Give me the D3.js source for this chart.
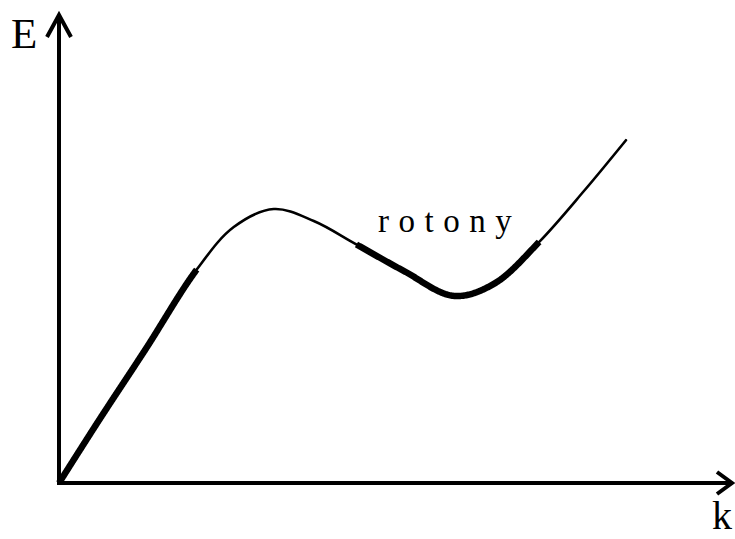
<!DOCTYPE html>
<html><head><meta charset="utf-8">
<script src="https://cdn.jsdelivr.net/npm/d3@7"></script>
<style>html,body{margin:0;padding:0;background:#fff}</style>
</head><body>
<script>
// dispersion curve E(k) (arbitrary units)
const kValues = [0, 0.6, 1.3, 2.07, 2.62, 3.22, 3.82, 4.45, 5.17, 5.92, 6.52, 7.2, 7.87, 8.5];
const eValues = [0, 1.36, 2.9, 4.63, 5.54, 5.93, 5.67, 5.17, 4.59, 4.05, 4.31, 5.22, 6.32, 7.42];
// highlighted (thick) ranges in k
const phononRange = [0, 2.07];
const rotonRange = [4.45, 7.2];
const axisLabels = {x: "k", y: "E"};
const rotonLabel = "rotony";

const W = 735, H = 539;
const svg = d3.select("body").append("svg").attr("width", W).attr("height", H);
const x = d3.scaleLinear().domain([0, 10]).range([59, 726]);
const y = d3.scaleLinear().domain([0, 10]).range([483, 21]);

const pts = kValues.map((k, i) => [k, eValues[i]]);
const line = d3.line().x(d => x(d[0])).y(d => y(d[1])).curve(d3.curveCatmullRom.alpha(0.5));

// full thin curve
const full = svg.append("path").attr("d", line(pts)).attr("fill", "none")
  .attr("stroke", "#000").attr("stroke-width", 2.6).attr("stroke-linecap", "round");

// sample the full curve to build thick sub-segments
const node = full.node();
const L = node.getTotalLength();
const samples = d3.range(0, L + 0.5, 1).map(l => node.getPointAtLength(Math.min(l, L)));
function seg(r) {
  const a = x(r[0]), b = x(r[1]);
  return samples.filter(p => p.x >= a && p.x <= b);
}
const pline = d3.line().x(p => p.x).y(p => p.y);
[phononRange, rotonRange].forEach(r => {
  svg.append("path").attr("d", pline(seg(r))).attr("fill", "none")
    .attr("stroke", "#000").attr("stroke-width", 6.5).attr("stroke-linecap", "butt");
});

// axes
const x0 = x(0), y0 = y(0);
const ax = svg.append("g").attr("stroke", "#000").attr("stroke-width", 4).attr("fill", "none");
ax.append("line").attr("x1", x0).attr("y1", y0 + 2).attr("x2", x0).attr("y2", 16);
ax.append("line").attr("x1", x0 - 2).attr("y1", y0).attr("x2", 731).attr("y2", y0);
ax.append("path").attr("d", `M${x0 - 12},37L${x0},15L${x0 + 12},37`).attr("stroke-linejoin", "miter");
ax.append("path").attr("d", `M717,${y0 - 11}L732,${y0}L717,${y0 + 11}`).attr("stroke-linejoin", "miter");

// labels
const serif = "'Liberation Serif', 'DejaVu Serif', serif";
svg.append("text").attr("x", 11).attr("y", 48).attr("font-family", serif)
  .attr("font-size", 43).text(axisLabels.y);
svg.append("text").attr("x", 712).attr("y", 529).attr("font-family", serif)
  .attr("font-size", 40).text(axisLabels.x);
svg.append("text").attr("x", 378).attr("y", 232).attr("font-family", serif)
  .attr("font-size", 33).attr("letter-spacing", "9.5px").text(rotonLabel);
</script>
</body></html>
